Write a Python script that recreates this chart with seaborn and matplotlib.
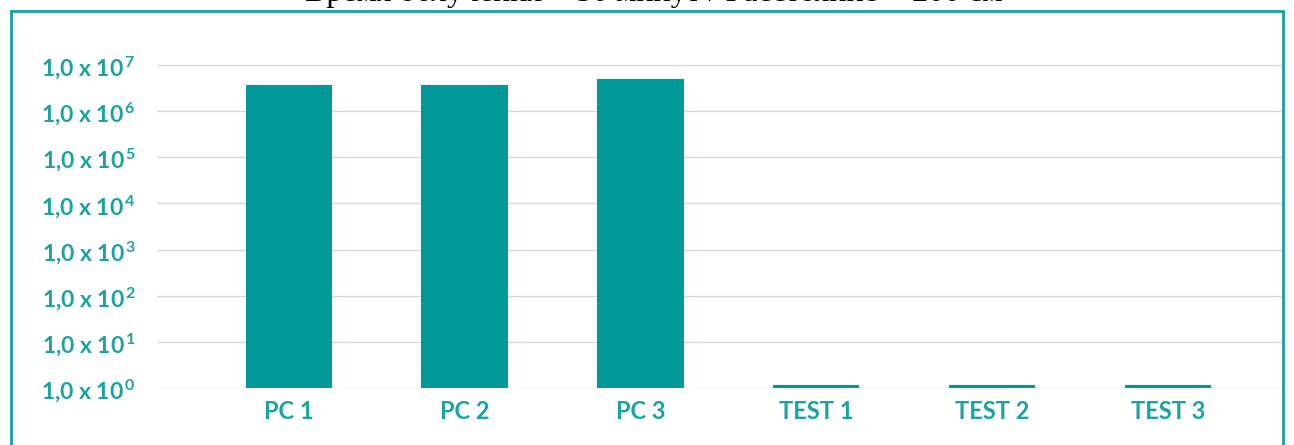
import numpy as np
import pandas as pd
import matplotlib
matplotlib.use("Agg")
import matplotlib.pyplot as plt
import matplotlib.patches as mpatches
import matplotlib.ticker as mtick
import seaborn as sns

sns.set_theme(style='white')
plt.rcParams['font.family'] = ['Lato', 'DejaVu Sans']
plt.rcParams['mathtext.fontset'] = 'custom'
plt.rcParams['mathtext.rm'] = 'Lato:bold'
plt.rcParams['mathtext.it'] = 'Lato:bold'
plt.rcParams['mathtext.bf'] = 'Lato:bold'

TEAL = '#009999'
LABEL = '#1ba3a0'
FRAME = '#1a9e9e'

# data
samples = ['PC 1', 'PC 2', 'PC 3', 'TEST 1', 'TEST 2', 'TEST 3']
counts = [3.5e6, 3.5e6, 4.8e6, 1.1, 1.1, 1.1]
exponents = [0, 1, 2, 3, 4, 5, 6, 7]
title = 'Время облучения = 30 минут / Расстояние = 200 см'

df = pd.DataFrame({'sample': samples, 'count': counts})

fig = plt.figure(figsize=(12.94, 4.45), dpi=100)
ax = fig.add_axes([0.1213, 0.1281, 0.8694, 0.7775])

sns.barplot(data=df, x='sample', y='count', color=TEAL, saturation=1,
            width=0.48, edgecolor=TEAL, linewidth=1.5, ax=ax)
ax.set_yscale('log')
ax.set_ylim(1, 10 ** 7.5)
ax.set_xlim(-0.75, 5.65)

ax.set_yticks([10.0 ** e for e in exponents])
ax.set_yticklabels([r'1,0 x 10$^{\,%d}$' % e for e in exponents])
ax.yaxis.set_minor_locator(mtick.NullLocator())
ax.grid(axis='y', color='#d9d9d9', linewidth=1)
ax.set_axisbelow(True)

ax.tick_params(axis='y', length=0, pad=15, labelsize=16.5, labelcolor=LABEL)
ax.tick_params(axis='x', length=0, pad=9, labelsize=17, labelcolor=LABEL)
for t in ax.get_yticklabels() + ax.get_xticklabels():
    t.set_fontweight('bold')
ax.set_xlabel('')
ax.set_ylabel('')
sns.despine(left=True, bottom=True, top=True, right=True)

# teal frame around the chart (bottom edge lies below the image)
frame = mpatches.Rectangle((11 / 1294, -0.1), (1283 - 11) / 1294, 1.1 - 11 / 445,
                           transform=fig.transFigure, fill=False,
                           edgecolor=FRAME, linewidth=2, clip_on=False)
fig.patches.append(frame)

fig.text(0.505, 1 - 1 / 445, title, ha='center', va='baseline',
         fontsize=23, family=['Liberation Serif', 'DejaVu Serif'], color='black')

fig.savefig('out.png', dpi=100)
